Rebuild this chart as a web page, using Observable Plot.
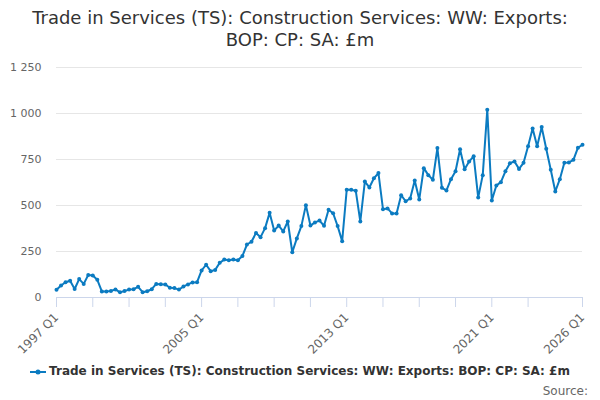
<!DOCTYPE html>
<html>
<head>
<meta charset="utf-8">
<script src="https://cdn.jsdelivr.net/npm/d3@7"></script>
<script src="https://cdn.jsdelivr.net/npm/@observablehq/plot@0.6"></script>
<style>
  html, body { margin: 0; padding: 0; background: #fff; }
  body { width: 600px; height: 400px; overflow: hidden; font-family: "DejaVu Sans", sans-serif; position: relative; }
  #title { height: 55px; text-align: center; font-size: 18px; line-height: 22px; color: #333; padding-top: 7px; box-sizing: border-box; }
  #legend { position: absolute; top: 364px; left: 0; width: 600px; text-align: center; font-size: 12px; font-weight: bold; color: #333; white-space: nowrap; }
  #legend svg { vertical-align: middle; margin-right: 3px; }
  #source { position: absolute; top: 384px; right: 12px; font-size: 12px; color: #666; }
  #chart { position: absolute; top: 55px; left: 0; }
</style>
</head>
<body>
<div id="title">Trade in Services (TS): Construction Services: WW: Exports:<br>BOP: CP: SA: £m</div>
<div id="chart"></div>
<div id="legend"></div>
<div id="source">Source:</div>
<script>
const seriesName = "Trade in Services (TS): Construction Services: WW: Exports: BOP: CP: SA: £m";
const startYear = 1997;
const values = [
  42, 65, 83, 91, 46, 100, 74, 122, 119, 96,
  33, 33, 35, 44, 28, 35, 43, 45, 58, 29,
  34, 45, 74, 72, 71, 53, 51, 43, 60, 71,
  82, 83, 147, 178, 143, 150, 189, 206, 203, 206,
  203, 226, 288, 303, 351, 328, 377, 460, 364, 391,
  359, 413, 246, 321, 388, 502, 391, 408, 418, 390,
  477, 458, 388, 306, 585, 585, 580, 413, 630, 598,
  648, 676, 480, 484, 457, 457, 556, 523, 538, 636,
  533, 703, 665, 640, 812, 596, 582, 643, 686, 806,
  697, 739, 768, 543, 665, 1020, 527, 609, 627, 686,
  730, 739, 699, 732, 822, 918, 822, 926, 808, 694,
  576, 643, 732, 734, 748, 814, 830
];
const yTicks = [0, 250, 500, 750, 1000, 1250];
const xTickYears = [1997, 1999, 2001, 2003, 2005, 2007, 2009, 2011, 2013, 2015, 2017, 2019, 2021, 2023, 2026];
const xLabelYears = [1997, 2005, 2013, 2021, 2026];

const data = values.map((v, i) => ({ t: startYear + i / 4, v }));
const color = "#0b7bc1";
const fmtY = d => d3.format(",")(d).replace(/,/g, " ");

const chart = Plot.plot({
  width: 600,
  height: 305,
  marginTop: 12,
  marginBottom: 63,
  marginLeft: 56,
  marginRight: 18,
  style: { fontFamily: "DejaVu Sans, sans-serif", fontSize: "11px", color: "#666", background: "#fff" },
  x: { domain: [startYear, startYear + (values.length - 1) / 4] },
  y: { domain: [0, 1250] },
  marks: [
    Plot.gridY(yTicks, { stroke: "#e6e6e6", strokeOpacity: 1 }),
    Plot.axisY(yTicks, { tickSize: 0, tickPadding: 15, tickFormat: fmtY, label: null, fill: "#666", fontSize: 11 }),
    Plot.ruleY([0], { stroke: "#ccd6eb" }),
    Plot.axisX(xTickYears, { tickSize: 10, stroke: "#ccd6eb", text: null, label: null }),
    Plot.axisX(xLabelYears, { tickSize: 0, tickPadding: 18, tickRotate: -45, tickFormat: d => d + " Q1", label: null, fill: "#666", fontSize: 12 }),
    Plot.line(data, { x: "t", y: "v", stroke: color, strokeWidth: 2 }),
    Plot.dot(data, { x: "t", y: "v", r: 2, fill: color, stroke: null })
  ]
});
document.getElementById("chart").appendChild(chart);

const lg = document.getElementById("legend");
lg.innerHTML = `<svg width="16" height="10"><line x1="0" y1="5" x2="16" y2="5" stroke="${color}" stroke-width="2"/><circle cx="8" cy="5" r="2.5" fill="${color}"/></svg>`;
lg.appendChild(document.createTextNode(seriesName));
</script>
</body>
</html>
